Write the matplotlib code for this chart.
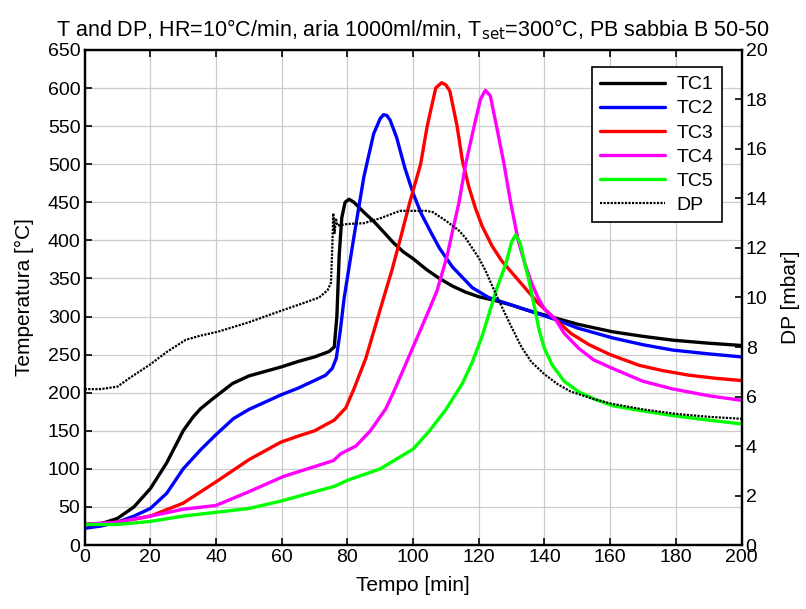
import matplotlib
matplotlib.use("Agg")
import matplotlib.pyplot as plt

plt.rcParams['font.family'] = ['Liberation Sans', 'DejaVu Sans']

# ---- data ----
t_tc1 = [0, 5, 10, 15, 20, 25, 30, 33, 35.3, 39, 45, 50, 55, 60, 65, 70, 74.4, 76, 76.8, 77.5, 78.3, 79.3, 80.5, 82, 85, 88, 90.6, 94, 97, 100, 104, 108, 112, 116, 120, 125, 130, 135, 143.4, 150, 160.7, 170, 179, 190, 200]
tc1 = [27, 28, 35, 50, 74, 108, 150, 168, 179, 192, 212, 222, 228, 234, 241, 247, 254, 260, 300, 380, 430, 450, 454, 450, 437, 425, 413, 397, 385, 376, 362, 350, 340, 332, 326, 321, 315, 308, 298, 290, 280, 274, 269, 265, 262]

t_tc2 = [0, 5, 10, 15, 20, 25, 30, 35.3, 40, 45.3, 50, 59.7, 65, 70, 73.4, 75.4, 76.6, 77.8, 79, 82, 85, 88, 90, 91, 92, 93, 95, 97.5, 100, 102.5, 105.5, 108, 112, 118, 123, 128, 135, 143.4, 150, 160.7, 170, 179, 190, 200]
tc2 = [22, 25, 30, 38, 48, 68, 100, 125, 145, 166, 178, 197, 206, 216, 223, 232, 245, 280, 324, 405, 483, 540, 560, 565, 564, 558, 535, 495, 462, 435, 410, 390, 365, 338, 325, 318, 308, 296, 285, 272, 263, 256, 251, 247]

t_tc3 = [0, 10, 20, 30, 40, 50, 59.7, 65, 70, 73.4, 76, 79.5, 82, 85.6, 88, 91, 93.5, 96, 99, 102.3, 104.3, 106.9, 108.7, 110, 111.2, 113.4, 115, 117, 119, 121, 124, 127, 130, 133, 138, 143.4, 148, 153.6, 160, 168.8, 176, 184, 192, 200]
tc3 = [27, 30, 38, 55, 83, 112, 135, 143, 150, 158, 164, 180, 205, 245, 280, 324, 360, 400, 450, 500, 550, 600, 607, 604, 596, 550, 505, 470, 442, 419, 393, 373, 358, 343, 318, 296, 278, 263, 250, 236, 229, 223, 219, 216]

t_tc4 = [0, 10, 20, 30, 40, 50, 60.5, 70, 75.8, 78, 82.6, 87, 91.7, 94.5, 97.6, 100, 103, 105, 107.3, 110.4, 112, 114, 116, 118.6, 120.5, 122, 123.5, 125.4, 127.7, 129.7, 132, 134, 136, 138, 140, 143.4, 146, 150.5, 155, 160.7, 170, 179, 190, 200]
tc4 = [27, 30, 38, 47, 52, 70, 90, 103, 111, 120, 130, 150, 179, 205, 236, 260, 290, 310, 334, 380, 412, 450, 500, 550, 585, 597, 590, 550, 500, 450, 400, 370, 345, 325, 310, 296, 278, 258, 243, 232, 215, 205, 196, 190]

t_tc5 = [0, 10, 20, 30, 40, 50, 60, 70, 76, 80, 90, 100, 105, 110, 115, 118, 121, 123, 125.5, 128.3, 130, 131.2, 132.5, 134, 135.5, 138.4, 140, 142.4, 146, 150.5, 155, 160.7, 170, 179, 190, 200]
tc5 = [27, 27, 31, 38, 43, 48, 58, 70, 77, 85, 100, 126, 150, 178, 212, 240, 274, 302, 337, 370, 398, 407, 398, 370, 343, 282, 258, 236, 215, 201, 192, 183, 176, 170, 164, 159]

t_dp = [0, 5, 10, 13.5, 20, 25, 30.8, 35, 40.9, 50, 59.5, 65, 71.4, 74, 75, 75.4, 75.7, 76.1, 76.5, 77, 80, 85, 90, 96, 100, 104, 106, 110, 114, 116, 118, 120, 122, 125, 128, 130, 133, 136, 140, 144, 148, 155, 160, 170, 180, 190, 200]
dp = [6.3, 6.3, 6.4, 6.73, 7.3, 7.8, 8.29, 8.45, 8.63, 9.0, 9.45, 9.7, 10.0, 10.3, 10.6, 12.0, 13.4, 12.6, 13.2, 12.9, 12.97, 13.0, 13.2, 13.5, 13.5, 13.5, 13.45, 13.1, 12.7, 12.4, 12.0, 11.6, 11.1, 10.2, 9.35, 8.8, 8.0, 7.4, 6.9, 6.5, 6.2, 5.9, 5.72, 5.48, 5.3, 5.18, 5.1]

series = [("TC1", t_tc1, tc1, "#000000"),
          ("TC2", t_tc2, tc2, "#0000ff"),
          ("TC3", t_tc3, tc3, "#ff0000"),
          ("TC4", t_tc4, tc4, "#ff00ff"),
          ("TC5", t_tc5, tc5, "#00ff00")]

x_ticks = list(range(0, 201, 20))
y_ticks = list(range(0, 651, 50))
y2_ticks = list(range(0, 21, 2))

# ---- figure ----
fig = plt.figure(figsize=(8.06, 6.09), dpi=100)
ax = fig.add_axes([0.105, 0.105, 0.815, 0.813])

handles = []
for name, tt, vv, col in series:
    h, = ax.plot(tt, vv, color=col, lw=2.4, label=name, zorder=3,
                 solid_joinstyle="round", solid_capstyle="round")
    handles.append(h)

ax.set_xlim(0, 200)
ax.set_ylim(0, 650)
ax.set_xticks(x_ticks)
ax.set_yticks(y_ticks)
ax.grid(True, color="#cccccc", lw=0.9)
ax.set_axisbelow(True)
ax.tick_params(direction="in", labelsize=14, length=5, width=1.2, top=True, pad=3)
for s in ax.spines.values():
    s.set_linewidth(1.6)
ax.set_xlabel("Tempo [min]", fontsize=15, labelpad=7)
ax.set_ylabel("Temperatura [°C]", fontsize=15, labelpad=10)
ax.set_title("T and DP, HR=10°C/min, aria 1000ml/min, T$_\\mathrm{set}$=300°C, PB sabbia B 50-50",
             fontsize=15.5, pad=10)

ax2 = ax.twinx()
hdp, = ax2.plot(t_dp, dp, color="black", lw=1.6, ls=(0, (1, 0.6)), label="DP")
handles.append(hdp)
ax2.set_ylim(0, 20)
ax2.set_yticks(y2_ticks)
ax2.tick_params(direction="in", labelsize=14, length=5, width=1.2, pad=3)
ax2.set_ylabel("DP [mbar]", fontsize=15, labelpad=10)
for s in ax2.spines.values():
    s.set_linewidth(1.6)

leg = ax2.legend(handles=handles, loc="upper right", fontsize=14, handlelength=3.3,
                 frameon=True, fancybox=False, edgecolor="black", framealpha=1,
                 borderaxespad=0.5, labelspacing=0.33, handletextpad=0.6,
                 borderpad=0.45, bbox_to_anchor=(0.985, 0.985))
leg.get_frame().set_linewidth(1.2)

fig.savefig("out.png", dpi=100)
